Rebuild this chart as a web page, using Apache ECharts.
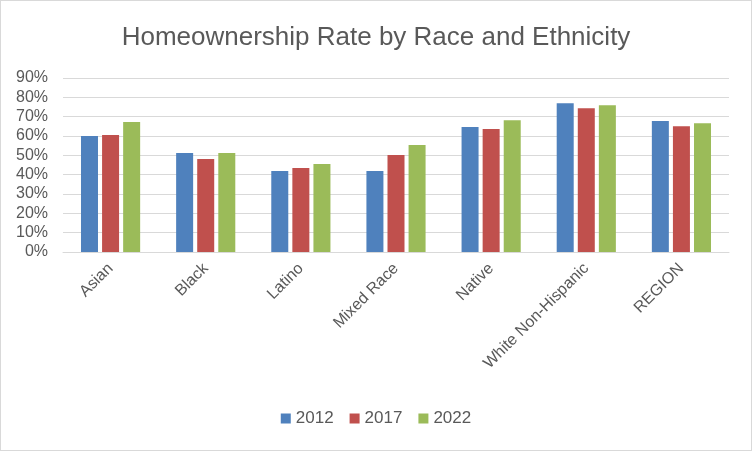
<!DOCTYPE html>
<html><head><meta charset="utf-8">
<script src="https://cdn.jsdelivr.net/npm/echarts@6/dist/echarts.min.js"></script>
<style>html,body{margin:0;padding:0;background:#fff}#c{width:750px;height:449px;border:1px solid #d9d9d9}</style>
</head><body><div id="c"></div>
<script>
const categories = ['Asian','Black','Latino','Mixed Race','Native','White Non-Hispanic','REGION'];
const seriesNames = ['2012','2017','2022'];
const v2012 = [0.600,0.512,0.419,0.419,0.646,0.770,0.677];
const v2017 = [0.605,0.481,0.434,0.502,0.636,0.744,0.651];
const v2022 = [0.672,0.512,0.455,0.553,0.682,0.759,0.666];
const colors = ['#4f81bd','#c0504d','#9bbb59'];
const font = 'Liberation Sans, Arial, sans-serif';
const chart = echarts.init(document.getElementById('c'));
chart.setOption({
  animation:false,
  title:{text:'Homeownership Rate by Race and Ethnicity',left:'center',top:19,
    textStyle:{fontFamily:font,fontSize:26,fontWeight:'normal',color:'#595959'}},
  legend:{data:seriesNames,bottom:18,itemWidth:10,itemHeight:10,itemGap:16,icon:'rect',
    textStyle:{fontFamily:font,fontSize:17,color:'#595959'}},
  grid:{left:62,right:22,top:77,bottom:198,containLabel:false},
  xAxis:{type:'category',data:categories,
    axisLine:{lineStyle:{color:'#d9d9d9'}},axisTick:{show:false},
    axisLabel:{rotate:45,fontFamily:font,fontSize:16,color:'#595959',margin:14}},
  yAxis:{type:'value',min:0,max:0.9,interval:0.1,
    axisLine:{show:false},axisTick:{show:false},
    splitLine:{lineStyle:{color:'#d9d9d9',width:1}},
    axisLabel:{formatter:v=>Math.round(v*100)+'%',fontFamily:font,fontSize:16,color:'#595959',margin:15}},
  series:[v2012,v2017,v2022].map((d,i)=>({name:seriesNames[i],type:'bar',data:d,
    barWidth:17,barGap:'24%',barCategoryGap:'38%',itemStyle:{color:colors[i]}}))
});
</script></body></html>
